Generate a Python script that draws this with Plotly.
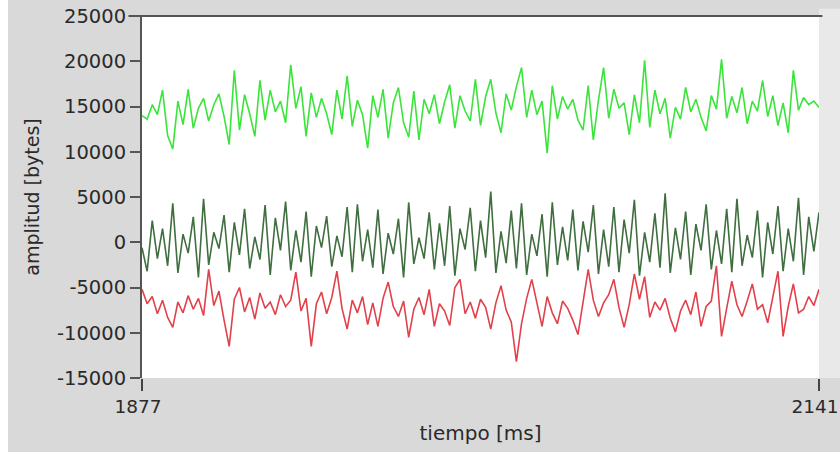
import plotly.graph_objects as go

t_start = 1877
t_end = 2141
step_ms = 2
tiempo = list(range(t_start, t_end + 1, step_ms))

verde_claro = [
    14000, 13600, 15200, 14100, 16800, 11800, 10300, 15600, 13000, 16900,
    12600, 14800, 15900, 13400, 15200, 16400, 13900, 10800, 19000, 12400,
    16300, 14200, 11700, 17900, 13500, 16800, 14400, 15600, 13200, 19600,
    14800, 17200, 11700, 16500, 13800, 15900, 14200, 11900, 16800, 13600,
    18400, 12800, 15700, 14100, 10400, 16200, 13800, 16900, 11500, 15400,
    17100, 13200, 11600, 16700, 11300, 15800, 14200, 16300, 13100, 15500,
    17400, 12600, 16200, 14500, 13400, 18000, 12900, 16100, 18000, 14300,
    12100, 16400, 14600, 17200, 19300, 13800, 16800, 14100, 15600, 9850,
    17300, 13600, 16100, 14700, 15800, 13500, 12400, 17300, 11300, 15700,
    19300, 13700, 16900, 14800, 15400, 11900, 16300, 13200, 20100, 12700,
    16800, 14200, 15900, 11500, 14900, 13600, 17100, 14400, 15800, 13800,
    12300, 16200, 14700, 20200, 13700, 16100, 14300, 17100, 13100, 15600,
    14500, 17900, 13900, 16200, 12900, 15400, 12100, 19000, 14600, 16000,
    15200, 15600, 14900,
]

verde_oscuro = [
    -600, -3200, 2400, -1800, 1500, -2600, 4300, -3400, 900, -1200,
    2800, -3900, 4800, -2500, 1100, -700, 3000, -3300, 2200, -1400,
    3700, -2900, 600, -1900, 4100, -3600, 2700, -900, 4500, -3100,
    1300, -2200, 3400, -3800, 1800, -600, 2900, -2700, 700, -1600,
    3900, -3300, 4200, -2100, 1400, -2800, 3600, -3500, 1000, -1300,
    2600, -3900, 4400, -2400, 500, -1800, 3300, -3000, 2100, -2600,
    4000, -3700, 1500, -800, 3800, -3200, 2400, -1700, 5600, -3400,
    1200, -2300, 3500, -2900, 4300, -3600, 900, -1500, 3100, -3800,
    4400, -2500, 1700, -2000, 3600, -3100, 2300, -1100, 4100, -3500,
    1400, -2700, 3900, -3300, 2500, -1200, 4700, -3700, 1100, -2200,
    3200, -2800, 5400, -3400, 1600, -1900, 3400, -3600, 2000, -900,
    4200, -3000, 1300, -2400, 3700, -3300, 4800, -2600, 800, -1700,
    3500, -3900, 2200, -1300, 4000, -3200, 1500, -2100, 4900, -3600,
    2800, -1000, 3300,
]

rojo = [
    -5200, -6800, -6000, -7900, -6400, -8300, -9400, -6600, -7800, -5900,
    -7400, -6200, -8100, -3000, -7000, -5400, -8600, -11500, -6300, -5000,
    -7700, -6100, -8500, -5600, -7300, -6600, -8000, -5800, -7100, -6400,
    -3300, -7600, -6200, -11500, -6800, -5500, -7900, -6100, -3200, -7300,
    -9600, -6400, -7800, -6000, -9100, -6700, -9300, -6200, -4400, -7100,
    -8200, -6500, -10500, -7400, -6100, -8000, -5200, -9300, -6800, -7600,
    -9200, -5000, -4100, -7900, -6600, -8400, -6300, -7200, -9600, -6700,
    -4800, -7500, -8800, -13200, -9000, -6200, -4100, -6900, -9300, -6000,
    -7800, -9000, -6500, -7300, -8600, -10200, -6800, -3000, -6400, -8200,
    -6700, -5800, -4100, -7200, -9400, -6900, -3500, -6300, -3800, -8300,
    -6600, -7500, -6200, -8400, -9900, -7600, -6400, -8000, -5500, -9300,
    -7100, -6500, -2600, -10400, -7300, -4300, -6900, -8200, -6500, -4600,
    -7400, -6900, -8900, -6200, -3200, -10400, -7100, -4600, -7800, -7400,
    -6000, -7000, -5200,
]

y_tickvals = [-15000, -10000, -5000, 0, 5000, 10000, 15000, 20000, 25000]
y_ticktext = ["-15000", "-10000", "-5000", "0", "5000", "10000", "15000", "20000", "25000"]
x_tickvals = [1877, 2141]
x_ticktext = ["1877", "2141"]

FONT = "DejaVu Sans, sans-serif"
TXT = "#2a2a2a"

fig = go.Figure()
fig.add_trace(go.Scatter(x=tiempo, y=verde_claro, mode="lines",
                         line=dict(color="#3ae43a", width=1.6), hoverinfo="skip"))
fig.add_trace(go.Scatter(x=tiempo, y=verde_oscuro, mode="lines",
                         line=dict(color="#3f6e3f", width=1.6), hoverinfo="skip"))
fig.add_trace(go.Scatter(x=tiempo, y=rojo, mode="lines",
                         line=dict(color="#e2404a", width=1.6), hoverinfo="skip"))

fig.update_layout(
    width=832, height=452,
    margin=dict(l=134, r=21, t=16, b=74),
    paper_bgcolor="#d9d9d9",
    plot_bgcolor="#ffffff",
    showlegend=False,
    font=dict(family=FONT, color=TXT),
    xaxis=dict(
        range=[t_start, t_end],
        tickvals=x_tickvals, ticktext=x_ticktext,
        ticks="outside", ticklen=12, tickwidth=2, tickcolor="#444444",
        showline=False, showgrid=False, zeroline=False,
        automargin=False, ticklabeloverflow="allow", ticklabelshift=-4,
        tickfont=dict(size=18.5, family=FONT, color=TXT),
        title=dict(text="tiempo [ms]", font=dict(size=20, family=FONT, color=TXT), standoff=9),
    ),
    yaxis=dict(
        range=[-15000, 25000],
        tickvals=y_tickvals, ticktext=y_ticktext,
        ticks="outside", ticklen=10, tickwidth=2, tickcolor="#555555",
        showline=True, linecolor="#555555", linewidth=2,
        showgrid=False, zeroline=False,
        automargin=False, ticklabeloverflow="allow",
        tickfont=dict(size=19.5, family=FONT, color=TXT),
        title=dict(text="amplitud [bytes]", font=dict(size=19, family=FONT, color=TXT), standoff=12),
    ),
    shapes=[
        dict(type="line", xref="paper", yref="paper", x0=-0.02, x1=1.005, y0=1, y1=1,
             line=dict(color="#555555", width=2)),
        dict(type="rect", xref="paper", yref="paper", x0=1.0, x1=1.04, y0=0, y1=1.02,
             fillcolor="#e9e9e9", line=dict(width=0), layer="below"),
    ],
)

fig.write_html("out.html", post_script="document.body.style.margin='0 0 0 8px';")
